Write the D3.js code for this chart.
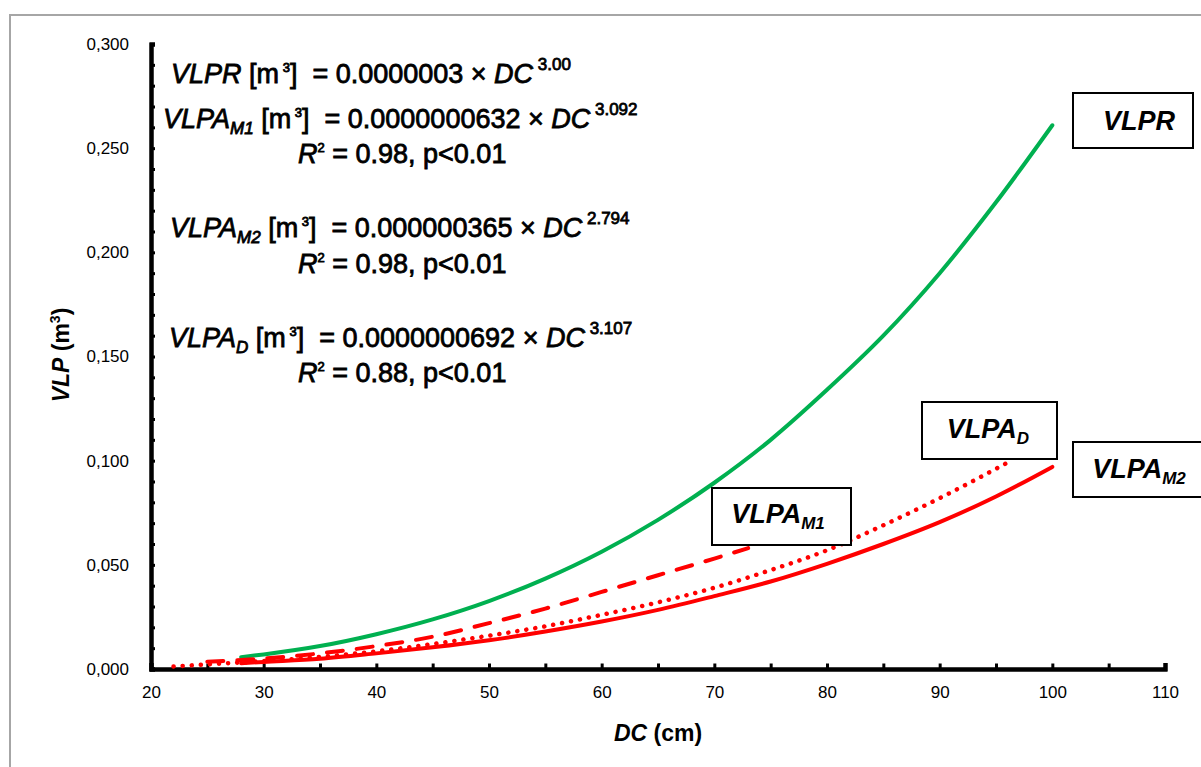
<!DOCTYPE html>
<html>
<head>
<meta charset="utf-8">
<script src="https://cdn.jsdelivr.net/npm/d3@7"></script>
<style>
  body { margin: 0; background: #fff; }
  svg { font-family: "Liberation Sans", Arial, sans-serif; }
  text { white-space: pre; }
</style>
</head>
<body>
<div id="chart"></div>
<script>
// values
const dcR = [28, 30, 35, 40, 45, 50, 55, 60, 65, 70, 75, 80, 85, 90, 95, 100];
const vlpr = [0.0057, 0.007, 0.011, 0.0167, 0.0238, 0.0326, 0.0434, 0.0563, 0.0716, 0.0894, 0.110, 0.134, 0.160, 0.190, 0.224, 0.261];

const dcM1 = [25, 30, 35, 40, 45, 50, 55, 60, 65, 70, 73];
const vlpaM1 = [0.0035, 0.005, 0.0075, 0.011, 0.0155, 0.022, 0.029, 0.037, 0.045, 0.053, 0.058];

const dcM2 = [28, 30, 35, 40, 45, 50, 55, 60, 65, 70, 75, 80, 85, 90, 95, 100];
const vlpaM2 = [0.0028, 0.0034, 0.0049, 0.0075, 0.0104, 0.0138, 0.018, 0.0228, 0.0284, 0.035, 0.042, 0.0505, 0.060, 0.0705, 0.0828, 0.097];

const dcD = [22, 25, 30, 35, 40, 45, 50, 55, 60, 65, 70, 75, 80, 85, 90, 96];
const vlpaD = [0.0012, 0.0022, 0.0038, 0.0058, 0.0085, 0.012, 0.016, 0.0205, 0.026, 0.032, 0.039, 0.0475, 0.057, 0.069, 0.082, 0.099];

const xMajor = [20, 30, 40, 50, 60, 70, 80, 90, 100, 110];
const xMinor = [25, 35, 45, 55, 65, 75, 85, 95, 105];
const yMajor = [0, 0.05, 0.10, 0.15, 0.20, 0.25, 0.30];
const yMinor = d3.range(0, 31).map(d => d / 100).filter(d => Math.round(d * 100) % 5 !== 0);

const width = 1201, height = 767;

const svg = d3.select("#chart").append("svg")
    .attr("width", width)
    .attr("height", height);

// outer frame
svg.append("rect")
    .attr("x", 10).attr("y", 15)
    .attr("width", 1210).attr("height", 780)
    .attr("fill", "none")
    .attr("stroke", "#a6a6a6")
    .attr("stroke-width", 2);

const x = d3.scaleLinear().domain([20, 110]).range([151, 1165]);
const y = d3.scaleLinear().domain([0, 0.3]).range([669, 44]);

const loc = d3.formatLocale({decimal: ",", thousands: ".", grouping: [3], currency: ["", ""]});
const fmt = loc.format(".3f");

// x axis
const gx = svg.append("g").attr("transform", `translate(0,${y(0)})`);
gx.call(d3.axisBottom(x).tickValues(xMajor).tickSize(-4).tickPadding(17).tickFormat(d3.format("d")));
gx.append("g").call(d3.axisBottom(x).tickValues(xMinor).tickSize(-4).tickFormat(""));
gx.selectAll(".domain").attr("stroke-width", 4);
gx.selectAll(".tick line").attr("stroke-width", 3);
gx.selectAll(".tick text").attr("font-size", 17).attr("fill", "#000");

// y axis
const gy = svg.append("g").attr("transform", `translate(${x(20)},0)`);
gy.call(d3.axisLeft(y).tickValues(yMajor).tickSize(-4).tickPadding(22).tickFormat(fmt));
gy.append("g").call(d3.axisLeft(y).tickValues(yMinor).tickSize(-4).tickFormat(""));
gy.selectAll(".domain").attr("stroke-width", 4);
gy.selectAll(".tick line").attr("stroke-width", 3);
gy.selectAll(".tick text").attr("font-size", 17).attr("fill", "#000");
gx.selectAll(".domain, .tick line").attr("stroke-linecap", "square");

// axis titles
const xt = svg.append("text")
    .attr("x", 658).attr("y", 741)
    .attr("text-anchor", "middle")
    .attr("font-size", 23).attr("font-weight", "bold");
xt.append("tspan").attr("font-style", "italic").text("DC");
xt.append("tspan").text(" (cm)");

const yt = svg.append("text")
    .attr("transform", "translate(69,355) rotate(-90)")
    .attr("text-anchor", "middle")
    .attr("font-size", 23).attr("font-weight", "bold");
yt.append("tspan").attr("font-style", "italic").text("VLP");
yt.append("tspan").text(" (m");
yt.append("tspan").attr("font-size", 14).attr("dy", -9).text("3");
yt.append("tspan").attr("dy", 9).text(")");

// curves
const line = d3.line()
    .x(d => x(d[0]))
    .y(d => y(d[1]))
    .curve(d3.curveMonotoneX);

const series = [
  {dc: dcR, v: vlpr, color: "#00b050", dash: null},
  {dc: dcM2, v: vlpaM2, color: "#ff0000", dash: null},
  {dc: dcD, v: vlpaD, color: "#ff0000", dash: "0.1,9"},
  {dc: dcM1, v: vlpaM1, color: "#ff0000", dash: "16,14"}
];

svg.selectAll("path.curve")
  .data(series)
  .join("path")
    .attr("class", "curve")
    .attr("d", s => line(s.dc.map((d, i) => [d, s.v[i]])))
    .attr("fill", "none")
    .attr("stroke", s => s.color)
    .attr("stroke-width", s => s.dash === "0.1,9" ? 4.5 : 4)
    .attr("stroke-linecap", "round")
    .attr("stroke-dasharray", s => s.dash);

// equations
function eq(xp, yp, name, sub, coef, expo) {
  const t = svg.append("text")
      .attr("x", xp).attr("y", yp)
      .attr("font-size", 27)
      .attr("fill", "#000").attr("stroke", "#000").attr("stroke-width", 0.8);
  t.append("tspan").attr("font-style", "italic").text(name);
  if (sub) t.append("tspan").attr("font-style", "italic").attr("font-size", 17).attr("dy", 6).text(sub);
  t.append("tspan").attr("dy", sub ? -6 : 0).text(" [m");
  t.append("tspan").attr("font-size", 13).attr("dy", -11).text(" 3");
  t.append("tspan").attr("dy", 11).text("]  = " + coef + " × ");
  t.append("tspan").attr("font-style", "italic").text("DC");
  t.append("tspan").attr("font-size", 17).attr("dy", -13).text(" " + expo);
}
function r2(xp, yp, val) {
  const t = svg.append("text")
      .attr("x", xp).attr("y", yp)
      .attr("font-size", 27)
      .attr("fill", "#000").attr("stroke", "#000").attr("stroke-width", 0.8);
  t.append("tspan").attr("font-style", "italic").text("R");
  t.append("tspan").attr("font-size", 13).attr("dy", -11).text("2");
  t.append("tspan").attr("dy", 11).text(" = " + val + ", p<0.01");
}

eq(171, 83, "VLPR", null, "0.0000003", "3.00");
eq(163, 128, "VLPA", "M1", "0.0000000632", "3.092");
r2(298, 163, "0.98");
eq(170, 237, "VLPA", "M2", "0.000000365", "2.794");
r2(298, 273, "0.98");
eq(169, 347, "VLPA", "D", "0.0000000692", "3.107");
r2(298, 382, "0.88");

// label boxes
const boxes = [
  {x: 1073, y: 93, w: 120, h: 55, name: "VLPR", sub: null, by: 130},
  {x: 922, y: 402, w: 135, h: 57, name: "VLPA", sub: "D", by: 438},
  {x: 712, y: 488, w: 139, h: 57, name: "VLPA", sub: "M1", by: 523},
  {x: 1073, y: 442, w: 140, h: 55, name: "VLPA", sub: "M2", by: 478}
];

const gb = svg.selectAll("g.box").data(boxes).join("g").attr("class", "box");
gb.append("rect")
    .attr("x", d => d.x).attr("y", d => d.y)
    .attr("width", d => d.w).attr("height", d => d.h)
    .attr("fill", "#fff").attr("stroke", "#000").attr("stroke-width", 2);
gb.each(function(d) {
  const t = d3.select(this).append("text")
      .attr("x", d.x + 66).attr("y", d.by)
      .attr("text-anchor", "middle")
      .attr("font-size", 27).attr("font-weight", "bold").attr("font-style", "italic");
  t.append("tspan").text(d.name);
  if (d.sub) t.append("tspan").attr("font-size", 17).attr("dy", 6).text(d.sub);
});
</script>
</body>
</html>
